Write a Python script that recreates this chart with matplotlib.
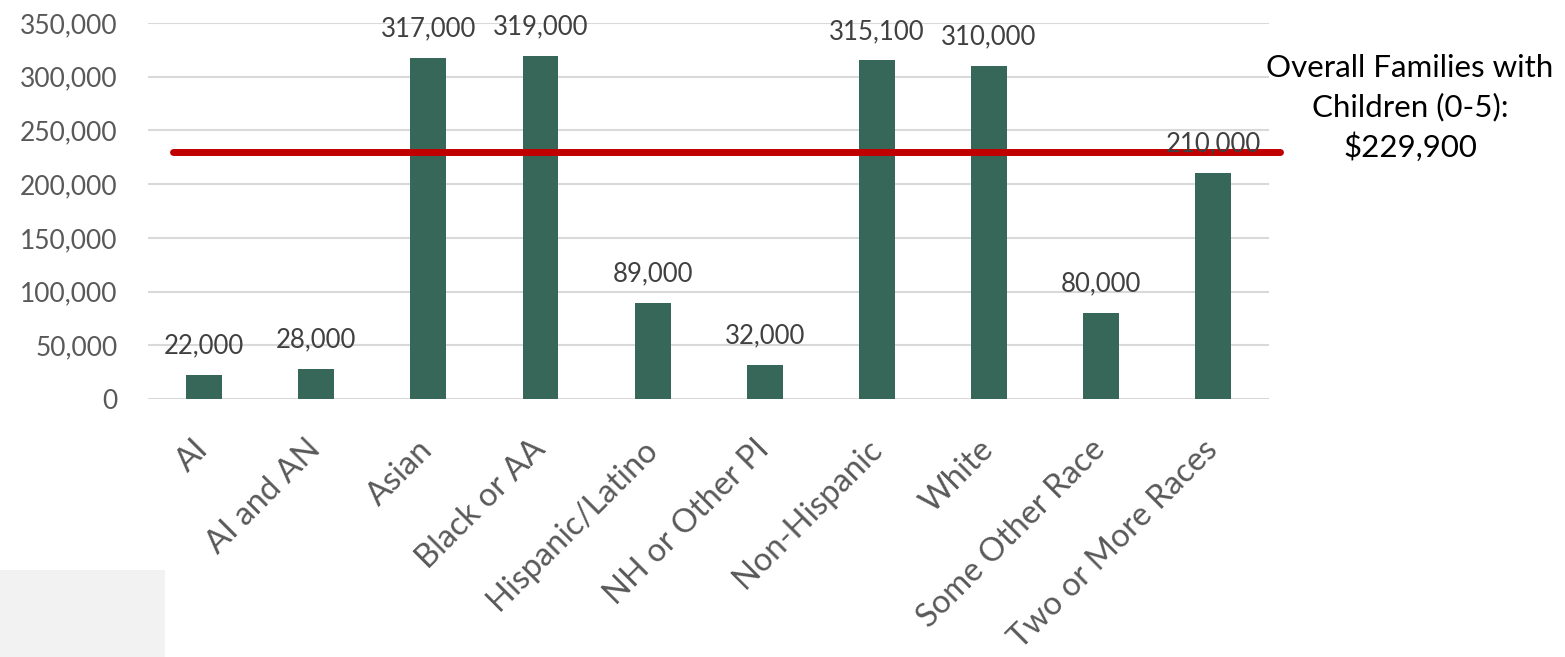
import matplotlib.pyplot as plt
import matplotlib.patches as patches
import matplotlib.transforms as mtransforms
import numpy as np

# median income by race/ethnicity
categories = ['AI', 'AI and AN', 'Asian', 'Black or AA', 'Hispanic/Latino',
              'NH or Other PI', 'Non-Hispanic', 'White', 'Some Other Race',
              'Two or More Races']
values = [22000, 28000, 317000, 319000, 89000, 32000, 315100, 310000, 80000, 210000]
overall = 229900
yticks = [0, 50000, 100000, 150000, 200000, 250000, 300000, 350000]

plt.rcParams['font.family'] = ['Lato', 'DejaVu Sans']

fig = plt.figure(figsize=(15.65, 6.57), dpi=100)
ax = fig.add_axes([0.0946, 0.3927, 0.7164, 0.5723])

x = np.arange(len(categories))
ax.bar(x, values, width=0.32, color='#376758', zorder=3)

for xi, v in zip(x, values):
    ax.annotate(f'{v:,}', (xi, v), xytext=(0, 12), textcoords='offset points',
                ha='center', va='bottom', fontsize=18.5, color='#404040', zorder=5)

ax.set_xlim(-0.5, len(categories) - 0.5)
ax.set_ylim(0, 350000)
ax.set_yticks(yticks)
ax.set_yticklabels([f'{t:,}' for t in yticks], fontsize=19, color='#595959')
ax.yaxis.grid(True, color='#d9d9d9', linewidth=1.5, zorder=0)
ax.set_axisbelow(True)

ax.set_xticks(x)
ax.set_xticklabels(categories, rotation=45, ha='right', va='center',
                   rotation_mode='anchor', fontsize=23.5, color='#595959')
shift = mtransforms.ScaledTranslation(8 / 100, 0, fig.dpi_scale_trans)
for lbl in ax.get_xticklabels():
    lbl.set_transform(lbl.get_transform() + shift)

ax.tick_params(axis='both', length=0)
ax.tick_params(axis='x', pad=33)
ax.tick_params(axis='y', pad=22)
for s in ax.spines.values():
    s.set_visible(False)

# overall reference line
ax.plot([-0.28, 9.6], [overall, overall], color='#c00000', linewidth=5,
        solid_capstyle='round', clip_on=False, zorder=4)
fig.text(0.901, 0.918, f'Overall Families with\nChildren (0-5):\n${overall:,}',
         ha='center', va='top', fontsize=22.5, color='#000000', linespacing=1.45)

fig.patches.append(patches.Rectangle((0, 0), 165 / 1565, 87 / 657,
                                     transform=fig.transFigure,
                                     facecolor='#f2f2f2', edgecolor='none'))

fig.savefig('out.png', dpi=100)
